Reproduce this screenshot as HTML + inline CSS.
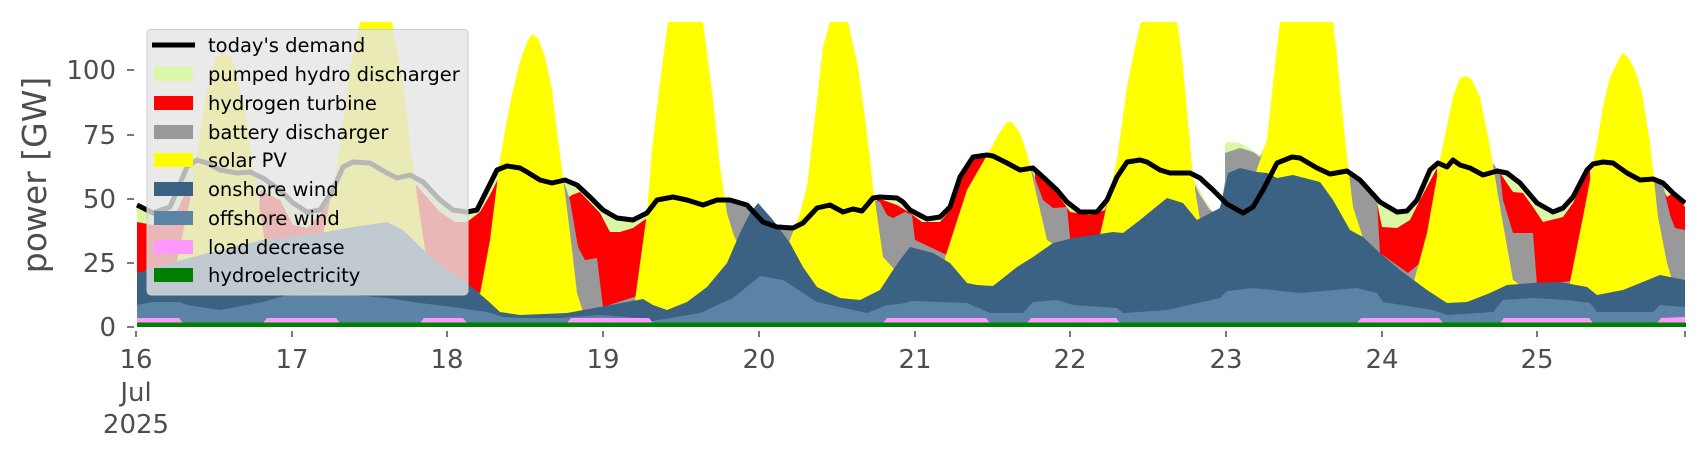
<!DOCTYPE html>
<html><head><meta charset="utf-8"><style>
html,body{margin:0;padding:0;background:#fff;}
svg{display:block;}
text{font-family:"DejaVu Sans","Liberation Sans",sans-serif;}
</style></head><body>
<svg width="1706" height="460" viewBox="0 0 1706 460" xmlns="http://www.w3.org/2000/svg">
<defs><clipPath id="pc"><rect x="136" y="22" width="1550" height="306"/></clipPath></defs>
<g clip-path="url(#pc)">
<polygon fill="#daf7a6" points="137,205 153,213 170,207 187,167 197,160 207,163 220,170 237,173 250,172 263,178 280,190 293,203 307,212 320,210 333,190 343,167 353,162 370,163 387,173 397,178 410,175 423,182 440,200 453,210 467,212 477,210 487,190 497,170 507,166 520,168 527,172 540,180 552,183 565,180 577,185 590,197 603,210 617,218 633,220 647,213 657,200 673,197 687,200 703,205 717,200 730,200 747,205 763,222 777,227 793,228 803,223 817,208 830,205 843,212 853,209 862,211 873,198 880,197 897,198 903,202 910,210 927,219 940,217 950,207 960,177 973,157 987,155 993,156 1007,163 1020,170 1033,168 1043,177 1057,190 1067,202 1080,212 1097,212 1107,200 1117,177 1127,162 1140,160 1147,162 1160,170 1170,173 1190,173 1197,185 1205,200 1215,215 1222,205 1226,175 1243,213 1253,207 1263,190 1277,163 1292,157 1300,158 1317,168 1330,174 1347,171 1360,180 1380,202 1397,212 1407,211 1417,200 1430,170 1438,163 1447,167 1453,160 1460,165 1470,168 1483,175 1497,171 1507,173 1520,183 1537,203 1553,212 1563,208 1573,197 1587,170 1593,164 1603,162 1613,163 1627,173 1640,180 1653,179 1663,183 1673,193 1685,203 1685,327 137,327"/>
<polygon fill="#daf7a6" points="1225,145 1227,142 1240,143 1247,147 1260,155 1265,145 1267,327 1225,327"/>
<g fill="#ff0000">
<polygon points="137,222 153,225 170,222 180,205 190,180 195,327 137,327"/>
<polygon points="260,190 280,200 293,225 307,228 320,215 333,195 340,175 345,327 255,327"/>
<polygon points="410,178 425,195 440,212 455,222 467,222 480,212 490,195 500,175 510,150 515,327 405,327"/>
<polygon points="565,200 572,195 580,192 600,213 610,232 620,232 633,228 647,218 652,200 655,327 565,327"/>
<polygon points="877,198 897,205 910,213 922,222 940,222 950,210 965,170 975,158 985,157 990,327 877,327"/>
<polygon points="1035,170 1057,193 1070,212 1090,215 1105,210 1115,175 1118,165 1120,327 1035,327"/>
<polygon points="1377,203 1382,227 1397,228 1410,220 1420,200 1437,168 1440,327 1377,327"/>
<polygon points="1500,173 1513,192 1523,193 1533,207 1543,222 1563,217 1573,203 1590,168 1593,327 1500,327"/>
<polygon points="1660,183 1667,197 1673,193 1685,207 1685,327 1660,327"/>
</g>
<g fill="#999999">
<polygon points="460,285 480,293 495,300 505,310 505,327 460,327"/>
<polygon points="562,180 565,185 570,200 578,247 585,260 597,258 603,307 640,295 650,290 650,327 560,327"/>
<polygon points="715,198 730,202 747,207 755,212 760,327 715,327"/>
<polygon points="780,224 793,230 800,327 780,327"/>
<polygon points="873,200 880,202 887,215 893,218 905,212 912,215 915,240 947,255 947,327 873,327"/>
<polygon points="1028,160 1030,165 1043,200 1053,208 1067,207 1070,238 1075,327 1025,327"/>
<polygon points="1195,185 1200,195 1210,210 1218,215 1222,200 1226,175 1228,327 1195,327"/>
<polygon points="1225,153 1240,148 1253,152 1260,157 1265,150 1267,327 1225,327"/>
<polygon points="1340,168 1350,175 1360,182 1377,201 1380,253 1408,273 1420,263 1425,240 1428,327 1340,327"/>
<polygon points="1493,163 1500,173 1503,200 1513,233 1533,233 1537,285 1580,280 1590,270 1590,327 1493,327"/>
<polygon points="1650,176 1663,185 1670,215 1675,228 1685,230 1685,327 1650,327"/>
</g>
<g fill="#ffff00">
<polygon points="175,270 190,200 205,100 215,60 223,52 232,58 245,110 258,200 268,260 268,327 175,327"/>
<polygon points="322,240 337,167 350,67 360,22 392,22 403,83 413,167 425,250 440,280 440,327 322,327"/>
<polygon points="478,305 490,240 500,160 507,120 513,90 520,62 527,42 532,34 538,38 545,57 552,90 558,140 563,177 570,233 577,293 583,312 583,327 478,327"/>
<polygon points="635,300 647,213 652,150 660,83 668,22 703,22 713,100 720,167 727,213 733,233 740,250 740,327 635,327"/>
<polygon points="788,245 800,213 807,187 817,100 823,47 830,22 848,22 858,67 867,133 873,187 883,257 895,270 895,327 788,327"/>
<polygon points="945,258 967,190 990,150 1000,132 1007,122 1012,122 1020,133 1028,157 1037,197 1047,240 1055,245 1055,327 945,327"/>
<polygon points="1100,235 1117,160 1127,87 1135,47 1141,22 1177,22 1182,57 1187,110 1193,177 1200,220 1207,228 1207,327 1100,327"/>
<polygon points="1255,175 1267,140 1273,83 1280,22 1333,22 1337,57 1342,110 1347,157 1353,207 1362,235 1362,327 1255,327"/>
<polygon points="1413,285 1427,233 1440,160 1453,97 1460,78 1467,76 1472,80 1480,97 1490,147 1500,207 1513,280 1520,285 1520,327 1413,327"/>
<polygon points="1570,282 1583,217 1597,143 1603,107 1610,77 1622,53 1628,57 1635,70 1642,93 1650,143 1658,217 1667,263 1672,280 1672,327 1570,327"/>
</g>
<polygon fill="#3b6183" points="137,273 170,263 220,250 263,240 320,233 353,227 387,222 403,230 437,263 467,283 487,300 500,312 520,315 567,313 600,307 643,299 653,305 667,310 687,302 707,287 727,263 740,233 750,213 758,203 773,220 790,243 803,267 817,287 840,298 860,300 880,290 893,270 900,260 910,247 933,253 950,263 967,283 977,285 993,286 1017,267 1033,257 1053,243 1073,238 1113,232 1123,233 1140,220 1167,198 1183,203 1197,220 1220,208 1228,173 1240,168 1257,172 1267,173 1277,178 1293,175 1320,182 1333,200 1350,230 1363,237 1380,253 1400,270 1427,290 1447,303 1467,302 1490,293 1507,285 1533,283 1560,282 1587,287 1597,295 1623,290 1660,275 1685,280 1685,327 137,327"/>
<polygon fill="#5b83a5" points="137,305 153,302 180,302 187,305 220,310 263,302 287,295 320,293 353,295 387,298 420,303 453,307 487,312 503,317 520,318 560,318 600,315 640,318 647,322 700,313 733,298 760,276 783,280 817,302 867,313 887,305 900,304 913,301 967,303 990,313 1023,313 1033,302 1057,300 1073,305 1117,308 1123,313 1167,310 1220,298 1227,291 1253,288 1300,293 1357,288 1377,293 1383,302 1433,310 1447,315 1493,312 1503,300 1533,298 1567,300 1590,303 1597,312 1653,312 1660,305 1685,307 1685,327 137,327"/>
<g fill="#ff99ff">
<polygon points="137,318 179,318 183,323 137,323"/>
<polygon points="263,323 267,318 336,318 340,323"/>
<polygon points="420,323 424,318 463,318 467,323"/>
<polygon points="567,323 571,318 649,318 653,323"/>
<polygon points="883,323 887,318 986,318 990,323"/>
<polygon points="1027,323 1031,318 1116,318 1120,323"/>
<polygon points="1357,323 1361,318 1439,318 1443,323"/>
<polygon points="1500,323 1504,318 1589,318 1593,323"/>
<polygon points="1657,323 1661,318 1685,317 1685,323"/>
</g>
<rect x="137" y="322.5" width="1549" height="4.5" fill="#008000"/>
<polyline fill="none" stroke="#000" stroke-width="5" stroke-linejoin="round" points="137,205 153,213 170,207 187,167 197,160 207,163 220,170 237,173 250,172 263,178 280,190 293,203 307,212 320,210 333,190 343,167 353,162 370,163 387,173 397,178 410,175 423,182 440,200 453,210 467,212 477,210 487,190 497,170 507,166 520,168 527,172 540,180 552,183 565,180 577,185 590,197 603,210 617,218 633,220 647,213 657,200 673,197 687,200 703,205 717,200 730,200 747,205 763,222 777,227 793,228 803,223 817,208 830,205 843,212 853,209 862,211 873,198 880,197 897,198 903,202 910,210 927,219 940,217 950,207 960,177 973,157 987,155 993,156 1007,163 1020,170 1033,168 1043,177 1057,190 1067,202 1080,212 1097,212 1107,200 1117,177 1127,162 1140,160 1147,162 1160,170 1170,173 1190,173 1200,178 1213,190 1227,204 1243,213 1253,207 1263,190 1277,163 1292,157 1300,158 1317,168 1330,174 1347,171 1360,180 1380,202 1397,212 1407,211 1417,200 1430,170 1438,163 1447,167 1453,160 1460,165 1470,168 1483,175 1497,171 1507,173 1520,183 1537,203 1553,212 1563,208 1573,197 1587,170 1593,164 1603,162 1613,163 1627,173 1640,180 1653,179 1663,183 1673,193 1685,203"/>
</g>
<rect x="147" y="29.5" width="321" height="265.5" rx="4" fill="rgb(229,229,229)" fill-opacity="0.8" stroke="#cccccc" stroke-width="1"/>
<line x1="152" y1="45" x2="195" y2="45" stroke="#000" stroke-width="5"/>
<rect x="154" y="67" width="39" height="14" fill="#daf7a6"/>
<rect x="154" y="96" width="39" height="14" fill="#ff0000"/>
<rect x="154" y="125" width="39" height="14" fill="#999999"/>
<rect x="154" y="153" width="39" height="14" fill="#ffff00"/>
<rect x="154" y="182" width="39" height="14" fill="#3b6183"/>
<rect x="154" y="211" width="39" height="14" fill="#5b83a5"/>
<rect x="154" y="240" width="39" height="14" fill="#ff99ff"/>
<rect x="154" y="268" width="39" height="14" fill="#008000"/>
<g font-size="19.5" fill="#000">
<text x="208" y="52">today's demand</text>
<text x="208" y="81">pumped hydro discharger</text>
<text x="208" y="110">hydrogen turbine</text>
<text x="208" y="139">battery discharger</text>
<text x="208" y="167">solar PV</text>
<text x="208" y="196">onshore wind</text>
<text x="208" y="225">offshore wind</text>
<text x="208" y="254">load decrease</text>
<text x="208" y="282">hydroelectricity</text>
</g>
<g stroke="#4d4d4d" stroke-width="1.5">
<line x1="127" y1="327" x2="134" y2="327"/>
<line x1="127" y1="263" x2="134" y2="263"/>
<line x1="127" y1="199" x2="134" y2="199"/>
<line x1="127" y1="135" x2="134" y2="135"/>
<line x1="127" y1="70" x2="134" y2="70"/>
</g>
<g font-size="26" fill="#4d4d4d" text-anchor="end">
<text x="116" y="336">0</text>
<text x="116" y="272">25</text>
<text x="116" y="208">50</text>
<text x="116" y="144">75</text>
<text x="116" y="79">100</text>
</g>
<text transform="translate(46,175) rotate(-90)" font-size="33" fill="#4d4d4d" text-anchor="middle">power [GW]</text>
<g stroke="#4d4d4d" stroke-width="1.5">
<line x1="136" y1="331" x2="136" y2="337"/>
<line x1="292" y1="331" x2="292" y2="337"/>
<line x1="447" y1="331" x2="447" y2="337"/>
<line x1="603" y1="331" x2="603" y2="337"/>
<line x1="759" y1="331" x2="759" y2="337"/>
<line x1="915" y1="331" x2="915" y2="337"/>
<line x1="1070" y1="331" x2="1070" y2="337"/>
<line x1="1226" y1="331" x2="1226" y2="337"/>
<line x1="1382" y1="331" x2="1382" y2="337"/>
<line x1="1537" y1="331" x2="1537" y2="337"/>
<line x1="1685" y1="331" x2="1685" y2="337"/>
</g>
<g font-size="26" fill="#4d4d4d" text-anchor="middle">
<text x="136" y="368">16</text>
<text x="136" y="401">Jul</text>
<text x="136" y="433">2025</text>
<text x="292" y="368">17</text>
<text x="447" y="368">18</text>
<text x="603" y="368">19</text>
<text x="759" y="368">20</text>
<text x="915" y="368">21</text>
<text x="1070" y="368">22</text>
<text x="1226" y="368">23</text>
<text x="1382" y="368">24</text>
<text x="1537" y="368">25</text>
</g>
</svg>
</body></html>
